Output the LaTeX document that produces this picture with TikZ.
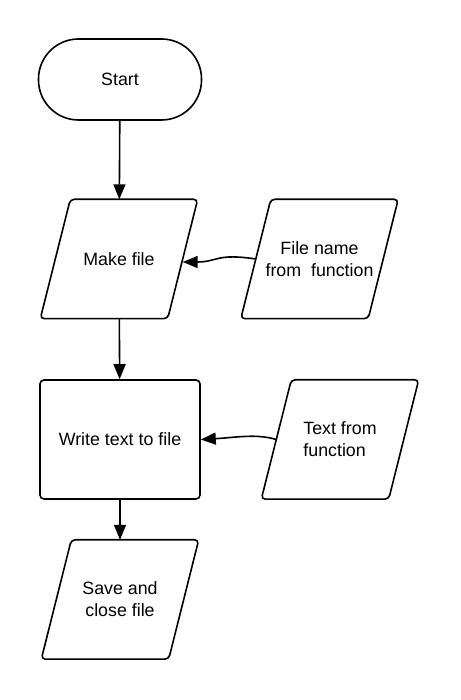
\documentclass[tikz,border=0pt]{standalone}
\usepackage{fontspec}
\setmainfont{Liberation Sans}
\usetikzlibrary{arrows.meta}
\begin{document}
\begin{tikzpicture}[x=1pt,y=1pt,
  box/.style={draw, line width=1.6pt, rounded corners=4pt, font=\fontsize{17.8}{22}\selectfont},
  io/.style={font=\fontsize{17.8}{22}\selectfont, minimum width=127pt, minimum height=119pt, inner sep=0pt},
  ioline/.style={line width=1.6pt, rounded corners=4pt},
  arr/.style={line width=1.6pt, -{Triangle[length=15pt,width=12pt]}}]
\useasboundingbox (0,0) rectangle (460,700);
\node [box, rounded corners=40pt, minimum width=163pt, minimum height=81pt] (start) at (120,620.5) {Start};
\node [io] (make) at (119,441) {Make file};
\node [io, align=center] (fname) at (319.5,441) {File name\\from\ \ function};
\node [box, minimum width=160pt, minimum height=119pt] (write) at (120,260.5) {Write text to file};
\node [io, align=left] (tfunc) at (340,260.5) {Text from\\function};
\node [io, align=center] (save) at (120,100.5) {Save and\\close file};
% slanted input boxes
\foreach \n in {make,fname,tfunc,save}
  \draw [ioline] ([xshift=15pt]\n.north west) -- ([xshift=15pt]\n.north east)
    -- ([xshift=-15pt]\n.south east) -- ([xshift=-15pt]\n.south west) -- cycle;
% connectors
\draw [arr] (start) -- (make);
\draw [arr] (fname.west) .. controls +(-40,6) and +(35,0) .. ([yshift=-3pt]make.east);
\draw [arr] (make) -- (write);
\draw [arr] (tfunc.west) .. controls +(-20,6) and +(35,2) .. (write.east);
\draw [arr] (write) -- (save);
\end{tikzpicture}
\end{document}
